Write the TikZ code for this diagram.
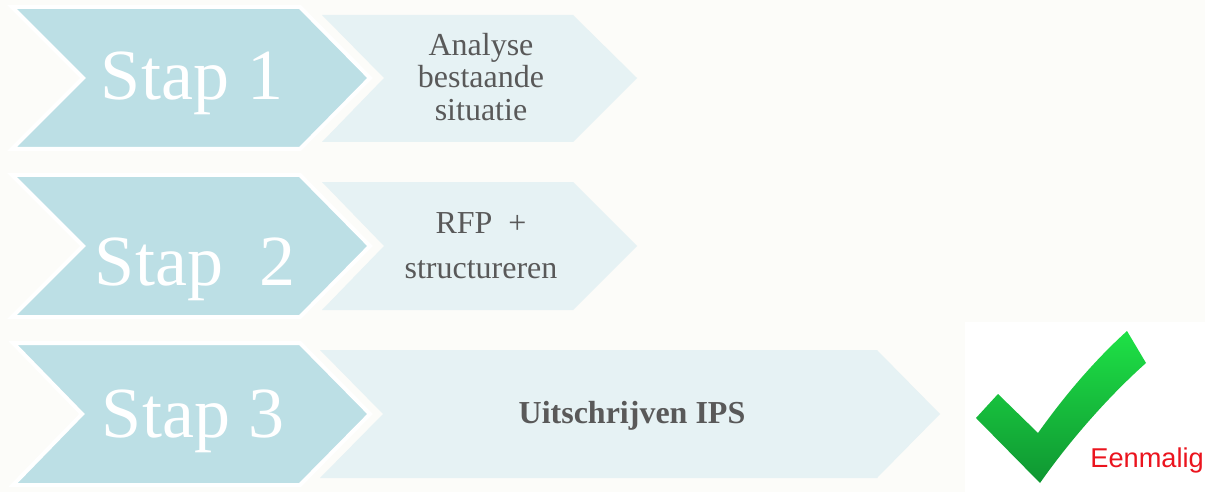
\documentclass[tikz,border=0pt]{standalone}
\usepackage{fontspec}
\setmainfont{Liberation Serif}
\newfontfamily\arialfont{Liberation Sans}
\definecolor{bgcol}{RGB}{252,252,249}
\definecolor{darkchev}{RGB}{188,223,229}
\definecolor{lightchev}{RGB}{230,242,244}
\definecolor{graytext}{RGB}{89,89,89}
\definecolor{redtext}{RGB}{235,20,30}
\definecolor{greentop}{RGB}{30,225,70}
\definecolor{greenbot}{RGB}{15,150,50}
\tikzset{
  darkarrow/.style={fill=darkchev, draw=white, line width=2pt, line join=miter},
  lightarrow/.style={fill=lightchev},
  staptext/.style={text=white, font=\fontsize{36}{36}\selectfont, anchor=base, inner sep=0pt},
  desctext/.style={text=graytext, font=\fontsize{16}{16}\selectfont, anchor=base, inner sep=0pt},
  boldtext/.style={text=graytext, font=\fontsize{16}{16}\selectfont\bfseries, anchor=base, inner sep=0pt},
  redlabel/.style={text=redtext, font=\arialfont\fontsize{13.6}{13.6}\selectfont, anchor=base west, inner sep=0pt}
}
\begin{document}
\begin{tikzpicture}[x=0.5pt,y=-0.5pt]
\useasboundingbox (0,0) rectangle (1205,492);
\fill[bgcol] (0,0) rectangle (1205,492);
% light chevrons
\fill[lightarrow] (322,15) -- (573,15) -- (637,78) -- (573,142) -- (322,142) -- (384,78) -- cycle;
\fill[lightarrow] (322,182) -- (573,182) -- (637,246) -- (573,310) -- (322,310) -- (384,246) -- cycle;
\fill[lightarrow] (320,350) -- (877,350) -- (940,414) -- (877,478) -- (320,478) -- (383,414) -- cycle;
% dark chevrons
\filldraw[darkarrow] (12,7) -- (300,7) -- (370,78) -- (300,149) -- (12,149) -- (83,78) -- cycle;
\filldraw[darkarrow] (12,175) -- (300,175) -- (370,246) -- (300,317) -- (12,317) -- (83,246) -- cycle;
\filldraw[darkarrow] (13,343) -- (300,343) -- (370,414) -- (300,485) -- (13,485) -- (82,414) -- cycle;
% step labels
\node[staptext] (s1) at (192,100) {Stap 1};
\node[staptext] (s2) at (195,285) {Stap\ \ 2};
\node[staptext] (s3) at (193,437) {Stap 3};
% descriptions
\node[desctext] (d1a) at (481,56) {Analyse};
\node[desctext] (d1b) at (481,88) {bestaande};
\node[desctext] (d1c) at (481,120) {situatie};
\node[desctext] (d2a) at (481,233) {RFP\ \ +};
\node[desctext] (d2b) at (481,278) {structureren};
\node[boldtext] (d3) at (632,423) {Uitschrijven IPS};
% check mark
\fill[white] (965,322) rectangle (1205,492);
\shade[top color=greentop, bottom color=greenbot]
  (976,418) -- (998,394) -- (1038,433)
  .. controls (1065,395) and (1095,360) .. (1127,331)
  -- (1146,363)
  .. controls (1110,395) and (1070,440) .. (1040,483) -- cycle;
\node[redlabel] (e) at (1090,467) {Eenmalig};
\end{tikzpicture}
\end{document}
